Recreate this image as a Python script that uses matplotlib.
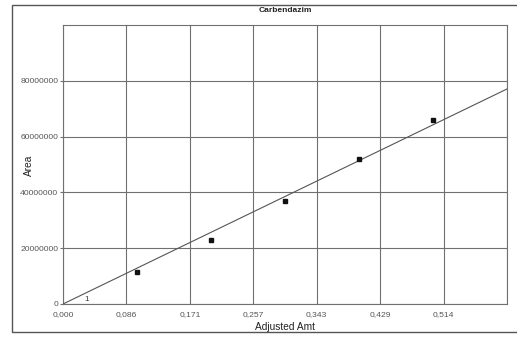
import numpy as np
import matplotlib.pyplot as plt
from matplotlib.patches import Rectangle
from matplotlib.ticker import FixedLocator, FuncFormatter

# calibration points
amt = [0.1, 0.2, 0.3, 0.4, 0.5]
area = [11500000, 23000000, 37000000, 52000000, 66000000]

x_ticks = [0.6 * k / 7 for k in range(8)]
y_ticks = [0, 20000000, 40000000, 60000000, 80000000]

title = 'Carbendazim'
xlabel = 'Adjusted Amt'
ylabel = 'Area'

plt.rcParams['font.family'] = ['Liberation Sans', 'DejaVu Sans']

fig = plt.figure(figsize=(5.17, 3.40), dpi=100)
ax = fig.add_axes([63 / 517, 36 / 340, 444 / 517, 279 / 340])

# outer frame around the chart
fig.patches.append(Rectangle((12 / 517, 8 / 340), 1.2, 327 / 340,
                             transform=fig.transFigure, fill=False,
                             edgecolor='#555555', linewidth=1.0))

# linear fit forced through the origin
slope = np.dot(amt, area) / np.dot(amt, amt)
xs = np.array([0, 0.6])
ax.plot(xs, slope * xs, color='#555555', linewidth=0.8, zorder=3)

ax.plot(amt, area, 's', color='#111111', markersize=3.2, zorder=4)
ax.text(0.029, 1000000, '1', fontsize=5.8, color='#333333')

ax.set_xlim(0, 0.6)
ax.set_ylim(0, 100000000)
ax.xaxis.set_major_locator(FixedLocator(x_ticks))
ax.yaxis.set_major_locator(FixedLocator(y_ticks))
ax.xaxis.set_major_formatter(FuncFormatter(
    lambda v, p: '' if v > 0.59 else ('%.3f' % v).replace('.', ',')))
ax.yaxis.set_major_formatter(FuncFormatter(lambda v, p: '%d' % v))

ax.grid(True, color='#707070', linewidth=0.8)
for s in ax.spines.values():
    s.set_color('#707070')
    s.set_linewidth(0.8)
ax.tick_params(axis='x', length=0, pad=5, labelsize=6.1, labelcolor='#555555')
ax.tick_params(axis='y', length=2.5, pad=1, labelsize=6.1,
               labelcolor='#555555', color='#707070')

fig.text(285 / 517, 1 - 10 / 340, title, fontsize=6, fontweight='bold',
         ha='center', va='center', color='#222222')
fig.text(285 / 517, 1 - 327 / 340, xlabel, fontsize=7.3,
         ha='center', va='center', color='#222222')
fig.text(29 / 517, 1 - 165 / 340, ylabel, fontsize=7.3, rotation=90,
         ha='center', va='center', color='#222222')

fig.savefig('out.png', dpi=100)
